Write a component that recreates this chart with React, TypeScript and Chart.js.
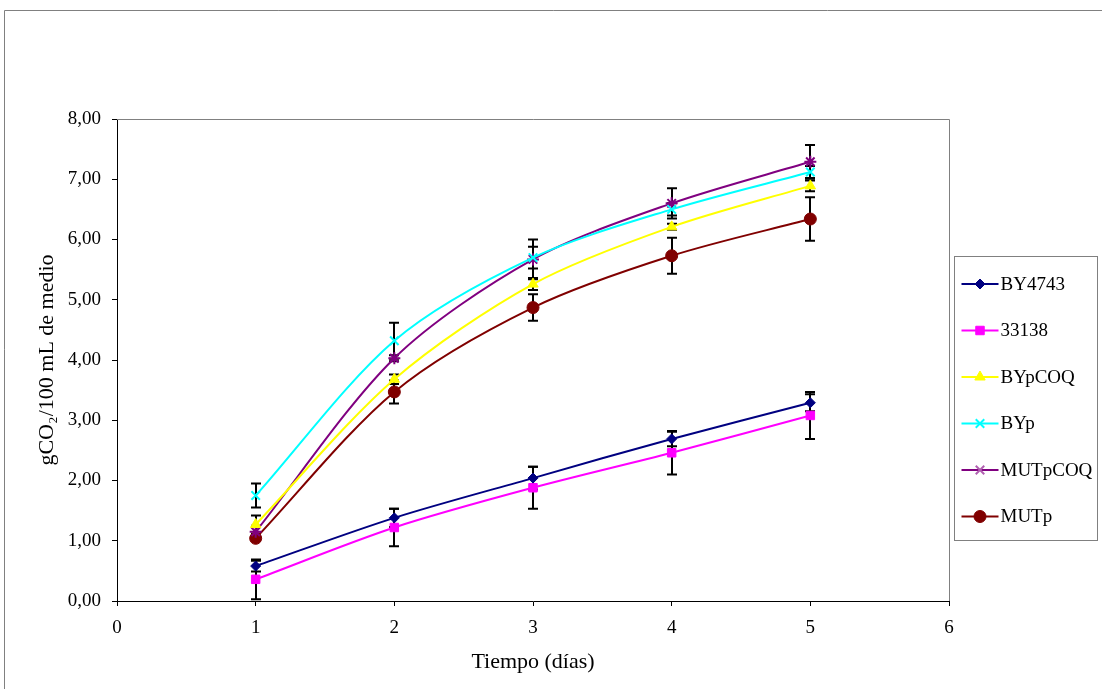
import React, { useEffect, useRef } from "react";
import { Chart, registerables } from "chart.js";
import { drawPoint } from "chart.js/helpers";

Chart.register(...registerables);

// Fermentation time (days)
const days = [1, 2, 3, 4, 5];

// CO2 released (g / 100 mL of medium) per strain
const by4743 = [0.58, 1.38, 2.04, 2.69, 3.29];
const s33138 = [0.36, 1.22, 1.88, 2.46, 3.08];
const byPCOQ = [1.27, 3.68, 5.26, 6.21, 6.89];
const byP = [1.75, 4.32, 5.7, 6.5, 7.12];
const mutPCOQ = [1.15, 4.03, 5.67, 6.6, 7.29];
const mutP = [1.04, 3.47, 4.87, 5.73, 6.34];

// Standard deviations (half-length of each error bar)
const by4743Err = [0.09, 0.15, 0.19, 0.12, 0.14];
const s33138Err = [0.33, 0.31, 0.35, 0.36, 0.39];
const byPCOQErr = [0.15, 0.08, 0.1, 0.05, 0.09];
const byPErr = [0.2, 0.3, 0.18, 0.1, 0.1];
const mutPCOQErr = [0.1, 0.05, 0.33, 0.25, 0.28];
const mutPErr = [0.03, 0.19, 0.22, 0.3, 0.36];

// Axis ticks
const xTicks = [0, 1, 2, 3, 4, 5, 6];
const yTicks = [0, 1, 2, 3, 4, 5, 6, 7, 8];

const SERIF = "'Liberation Serif', 'Times New Roman', serif";

type SeriesDef = {
  label: string;
  values: number[];
  errors: number[];
  color: string;
  pointStyle: string;
  legendStyle: string;
  legendColor: string;
  radius: number;
};

const series: SeriesDef[] = [
  { label: "BY4743", values: by4743, errors: by4743Err, color: "#000080", pointStyle: "rectRot", legendStyle: "rectRot", legendColor: "#000080", radius: 5 },
  { label: "33138", values: s33138, errors: s33138Err, color: "#FF00FF", pointStyle: "rect", legendStyle: "rect", legendColor: "#FF00FF", radius: 6 },
  { label: "BYpCOQ", values: byPCOQ, errors: byPCOQErr, color: "#FFFF00", pointStyle: "triangle", legendStyle: "triangle", legendColor: "#FFFF00", radius: 6 },
  { label: "BYp", values: byP, errors: byPErr, color: "#00FFFF", pointStyle: "crossRot", legendStyle: "crossRot", legendColor: "#00FFFF", radius: 6 },
  { label: "MUTpCOQ", values: mutPCOQ, errors: mutPCOQErr, color: "#800080", pointStyle: "star", legendStyle: "crossRot", legendColor: "#B060B0", radius: 6 },
  { label: "MUTp", values: mutP, errors: mutPErr, color: "#800000", pointStyle: "circle", legendStyle: "circle", legendColor: "#800000", radius: 6 },
];

// Page frame and plot-area border
const framePlugin = {
  id: "frame",
  beforeDraw(chart: any) {
    const { ctx, width, height } = chart;
    ctx.save();
    ctx.fillStyle = "#ffffff";
    ctx.fillRect(0, 0, width, height);
    ctx.strokeStyle = "#808080";
    ctx.lineWidth = 1;
    ctx.beginPath();
    ctx.moveTo(4.5, height);
    ctx.lineTo(4.5, 10.5);
    ctx.lineTo(width, 10.5);
    ctx.stroke();
    ctx.restore();
  },
  beforeDatasetsDraw(chart: any) {
    const { ctx, chartArea } = chart;
    ctx.save();
    ctx.strokeStyle = "#808080";
    ctx.lineWidth = 1;
    ctx.beginPath();
    ctx.moveTo(chartArea.left, Math.round(chartArea.top) + 0.5);
    ctx.lineTo(Math.round(chartArea.right) + 0.5, Math.round(chartArea.top) + 0.5);
    ctx.lineTo(Math.round(chartArea.right) + 0.5, chartArea.bottom);
    ctx.stroke();
    ctx.restore();
  },
};

// Vertical error bars with caps, drawn beneath lines and markers
const errorBarPlugin = {
  id: "errorBars",
  beforeDatasetsDraw(chart: any) {
    const { ctx, scales } = chart;
    const x = scales.x;
    const y = scales.y;
    ctx.save();
    ctx.strokeStyle = "#000000";
    ctx.lineWidth = 2;
    chart.data.datasets.forEach((ds: any) => {
      ds.data.forEach((p: any, j: number) => {
        const e = ds.errors[j];
        const px = Math.round(x.getPixelForValue(p.x));
        const top = y.getPixelForValue(p.y + e);
        const bot = y.getPixelForValue(p.y - e);
        ctx.beginPath();
        ctx.moveTo(px, top);
        ctx.lineTo(px, bot);
        ctx.moveTo(px - 5, top);
        ctx.lineTo(px + 5, top);
        ctx.moveTo(px - 5, bot);
        ctx.lineTo(px + 5, bot);
        ctx.stroke();
      });
    });
    ctx.restore();
  },
};

// Boxed legend at the right of the plot
const legendPlugin = {
  id: "boxLegend",
  afterDraw(chart: any) {
    const { ctx, chartArea } = chart;
    const boxLeft = chartArea.right + 5.5;
    const boxRight = chartArea.right + 148.5;
    const boxTop = 256.5;
    const boxBottom = 540.5;
    ctx.save();
    ctx.strokeStyle = "#808080";
    ctx.lineWidth = 1;
    ctx.strokeRect(boxLeft, boxTop, boxRight - boxLeft, boxBottom - boxTop);
    const firstY = 284;
    const step = 46.5;
    chart.data.datasets.forEach((ds: any, i: number) => {
      const cy = firstY + i * step;
      const x0 = boxLeft + 7;
      const x1 = boxLeft + 44;
      ctx.strokeStyle = ds.borderColor;
      ctx.lineWidth = 2;
      ctx.beginPath();
      ctx.moveTo(x0, cy);
      ctx.lineTo(x1, cy);
      ctx.stroke();
      ctx.strokeStyle = ds.legendColor;
      ctx.fillStyle = ds.legendColor;
      ctx.lineWidth = ds.pointBorderWidth;
      drawPoint(
        ctx,
        {
          pointStyle: ds.legendStyle,
          radius: ds.pointRadius,
          borderWidth: ds.pointBorderWidth,
          rotation: 0,
        } as any,
        (x0 + x1) / 2,
        cy
      );
      ctx.fillStyle = "#000000";
      ctx.font = `19px ${SERIF}`;
      ctx.textBaseline = "middle";
      ctx.textAlign = "left";
      ctx.fillText(ds.label, x1 + 2, cy + 1);
    });
    ctx.restore();
  },
};

export default function App() {
  const canvasRef = useRef<HTMLCanvasElement | null>(null);

  useEffect(() => {
    const canvas = canvasRef.current;
    if (!canvas) return;

    const datasets = series.map((s) => ({
      label: s.label,
      data: days.map((d, i) => ({ x: d, y: s.values[i] })),
      errors: s.errors,
      legendStyle: s.legendStyle,
      legendColor: s.legendColor,
      borderColor: s.color,
      backgroundColor: s.color,
      pointBackgroundColor: s.color,
      pointBorderColor: s.color,
      pointStyle: s.pointStyle,
      pointRadius: s.radius,
      pointBorderWidth: s.pointStyle === "crossRot" || s.pointStyle === "star" ? 2 : 1,
      borderWidth: 2,
      tension: 0.3,
      fill: false,
    }));

    const chart = new Chart(canvas, {
      type: "line",
      data: { datasets } as any,
      options: {
        responsive: false,
        animation: false,
        events: [],
        layout: { padding: { left: 0, top: 119, right: 153, bottom: 0 } },
        plugins: {
          legend: { display: false },
          tooltip: { enabled: false },
        },
        scales: {
          x: {
            type: "linear",
            min: xTicks[0],
            max: xTicks[xTicks.length - 1],
            afterBuildTicks: (scale: any) => {
              scale.ticks = xTicks.map((v) => ({ value: v }));
            },
            afterFit: (scale: any) => {
              scale.height = 88;
            },
            grid: {
              drawOnChartArea: false,
              drawTicks: true,
              tickLength: 5,
              color: "#000000",
            },
            border: { color: "#000000", width: 1 },
            ticks: {
              color: "#000000",
              padding: 11,
              maxRotation: 0,
              font: { family: SERIF, size: 19 },
              callback: (v: any) => String(v),
            },
            title: {
              display: true,
              text: "Tiempo (días)",
              color: "#000000",
              font: { family: SERIF, size: 22 },
              padding: { top: 0, bottom: 14 },
            },
          },
          y: {
            type: "linear",
            min: yTicks[0],
            max: yTicks[yTicks.length - 1],
            afterBuildTicks: (scale: any) => {
              scale.ticks = yTicks.map((v) => ({ value: v }));
            },
            afterFit: (scale: any) => {
              scale.width = 117;
            },
            grid: {
              drawOnChartArea: false,
              drawTicks: true,
              tickLength: 5,
              color: "#000000",
            },
            border: { color: "#000000", width: 1 },
            ticks: {
              color: "#000000",
              padding: 11,
              font: { family: SERIF, size: 19 },
              callback: (v: any) => Number(v).toFixed(2).replace(".", ","),
            },
            title: {
              display: true,
              text: "gCO₂/100 mL de medio",
              color: "#000000",
              font: { family: SERIF, size: 22 },
              padding: { top: 34, bottom: 0 },
            },
          },
        },
      } as any,
      plugins: [framePlugin, errorBarPlugin, legendPlugin],
    });

    return () => chart.destroy();
  }, []);

  return (
    <div
      style={{
        position: "fixed",
        left: 0,
        top: 0,
        width: 1102,
        height: 689,
        background: "#ffffff",
      }}
    >
      <canvas
        ref={canvasRef}
        width={1102}
        height={689}
        style={{ width: 1102, height: 689, display: "block" }}
      />
    </div>
  );
}
